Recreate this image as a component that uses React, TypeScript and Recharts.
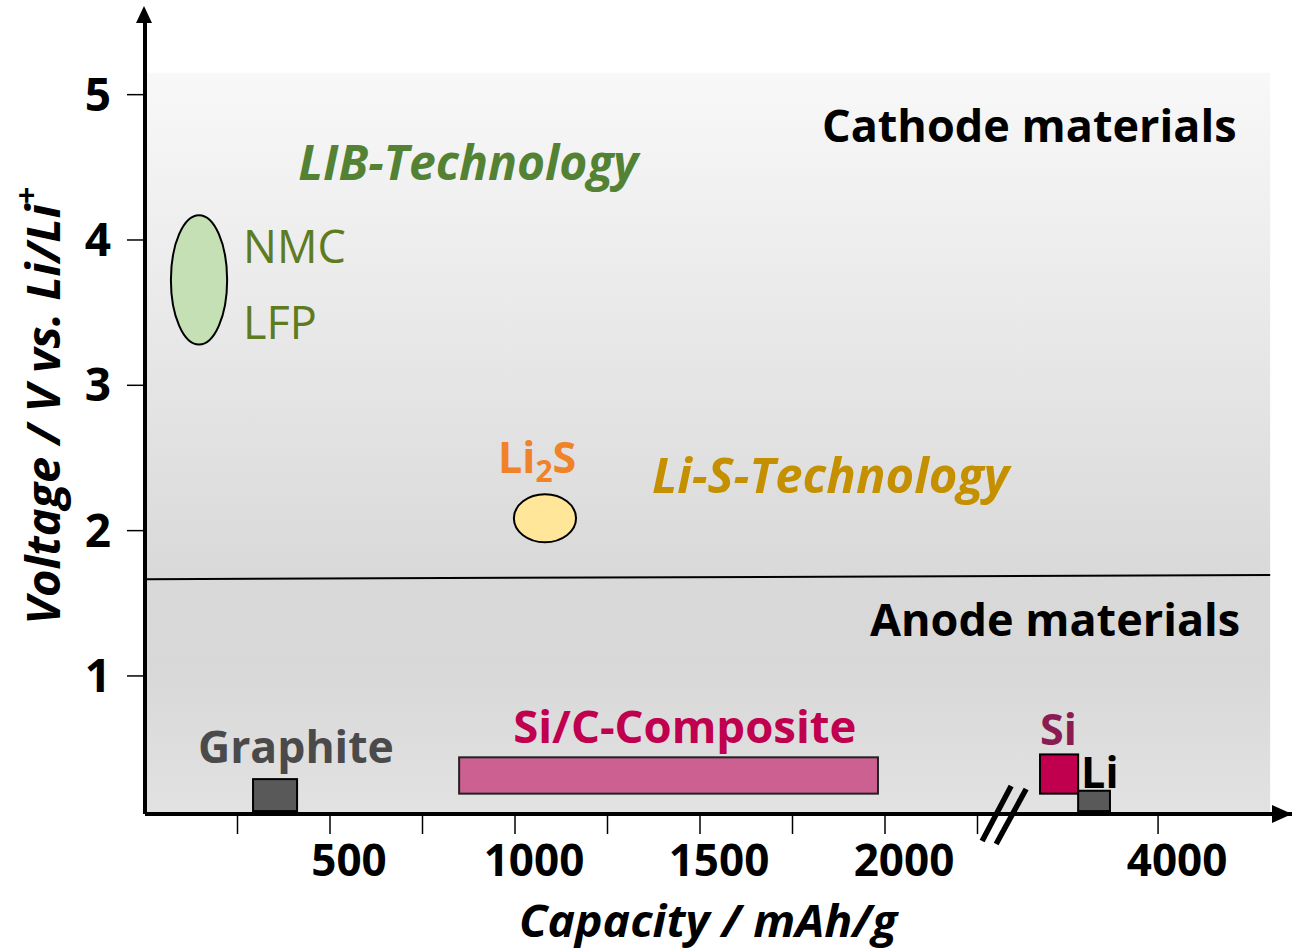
import { ComposedChart, XAxis, YAxis, ReferenceArea, ReferenceLine, ReferenceDot, Label } from "recharts"

// capacity axis is broken after 2250 mAh/g, values right of the break are plotted positions
const xTicks = [250, 500, 750, 1000, 1250, 1500, 1750, 2000, 2250, 2738]
const xTickLabels = ["", "500", "", "1000", "", "1500", "", "2000", "", "4000"]
const yTicks = [1, 2, 3, 4, 5]

// materials: capacity range (mAh/g) and voltage range (V vs. Li/Li+)
const materials = ["NMC / LFP", "Li2S", "Graphite", "Si/C-Composite", "Si", "Li"]
const capFrom = [70, 997, 292, 849, 2419, 2522]
const capTo = [222, 1165, 411, 1981, 2522, 2608]
const voltFrom = [3.28, 1.92, 0.07, 0.19, 0.19, 0.07]
const voltTo = [4.17, 2.25, 0.29, 0.44, 0.46, 0.21]

// text notes and where they sit
const notes = ["Cathode materials", "LIB-Technology", "NMC", "LFP", "Li2S", "Li-S-Technology", "Anode materials", "Graphite", "Si/C-Composite", "Si", "Li"]
const noteCap = [2950, 414, 265, 265, 954, 1370, 2960, 143, 995, 2419, 2530]
const noteVolt = [4.674, 4.413, 3.841, 3.318, 2.395, 2.258, 1.273, 0.399, 0.537, 0.523, 0.227]

// cathode / anode boundary
const dividerCap = [0, 3041]
const dividerVolt = [1.666, 1.694]
const regionCap = [0, 3041]
const regionVolt = [0.05, 5.15]

const FONT = "'Open Sans', 'Noto Sans', sans-serif"

const SHAPES: Record<string, { fill: string; stroke: string; oval?: boolean }> = {
  "NMC / LFP": { fill: "#c5e0b4", stroke: "#000", oval: true },
  Li2S: { fill: "#ffe699", stroke: "#000", oval: true },
  Graphite: { fill: "#595959", stroke: "#000" },
  "Si/C-Composite": { fill: "#cc6090", stroke: "#222" },
  Si: { fill: "#c0004f", stroke: "#000" },
  Li: { fill: "#595959", stroke: "#000" },
}

const NOTE_STYLE = [
  { color: "#000", weight: 700, italic: false, anchor: "end", size: 45 },
  { color: "#548235", weight: 700, italic: true, anchor: "start", size: 48 },
  { color: "#5e7b1f", weight: 400, italic: false, anchor: "start", size: 45 },
  { color: "#5e7b1f", weight: 400, italic: false, anchor: "start", size: 45 },
  { color: "#f08228", weight: 700, italic: false, anchor: "start", size: 43 },
  { color: "#c49000", weight: 700, italic: true, anchor: "start", size: 49 },
  { color: "#000", weight: 700, italic: false, anchor: "end", size: 45 },
  { color: "#4a4a4a", weight: 700, italic: false, anchor: "start", size: 44.5 },
  { color: "#c0004f", weight: 700, italic: false, anchor: "start", size: 45.5 },
  { color: "#8b1c53", weight: 700, italic: false, anchor: "start", size: 43 },
  { color: "#000", weight: 700, italic: false, anchor: "start", size: 43 },
]

const XTick = ({ x, y, index }: any) => (
  <text x={x + 19} y={y + 40} textAnchor="middle" fontSize={44} fontWeight={700} fontFamily={FONT} fill="#000">
    {xTickLabels[index] ?? ""}
  </text>
)

const YTick = ({ x, y, payload }: any) => (
  <text x={x - 14} y={y + 16} textAnchor="end" fontSize={46} fontWeight={700} fontFamily={FONT} fill="#000">
    {payload.value}
  </text>
)

function noteShape(i: number) {
  return (p: any) => {
    const s = NOTE_STYLE[i]
    const common = {
      x: p.cx,
      y: p.cy,
      textAnchor: s.anchor,
      fill: s.color,
      fontWeight: s.weight,
      fontStyle: s.italic ? "italic" : "normal",
      fontFamily: FONT,
      fontSize: s.size,
    }
    if (notes[i] === "Li2S") {
      return (
        <text {...common}>
          Li<tspan dy={9} fontSize={30}>2</tspan><tspan dy={-9}>S</tspan>
        </text>
      )
    }
    return <text {...common}>{notes[i]}</text>
  }
}

function materialShape(name: string) {
  return (p: any) => {
    const s = SHAPES[name]
    if (s.oval) {
      return (
        <ellipse cx={p.x + p.width / 2} cy={p.y + p.height / 2} rx={p.width / 2} ry={p.height / 2}
          fill={s.fill} stroke={s.stroke} strokeWidth={2} />
      )
    }
    return <rect x={p.x} y={p.y} width={p.width} height={p.height} fill={s.fill} stroke={s.stroke} strokeWidth={2} />
  }
}

const yArrow = (p: any) => (
  <polygon points={`${p.cx - 1},${p.cy - 16} ${p.cx - 9},${p.cy + 1} ${p.cx + 7},${p.cy + 1}`} fill="#000" />
)
const xArrow = (p: any) => (
  <polygon points={`${p.cx},${p.cy} ${p.cx - 20},${p.cy - 9} ${p.cx - 20},${p.cy + 9}`} fill="#000" />
)
const breakMark = (p: any) => (
  <g stroke="#000" strokeWidth={5.5}>
    <line x1={p.cx - 22} y1={p.cy + 27} x2={p.cx + 7} y2={p.cy - 28} />
    <line x1={p.cx - 8} y1={p.cy + 30} x2={p.cx + 22} y2={p.cy - 25} />
  </g>
)

const YTitle = ({ viewBox }: any) => {
  const cx = viewBox.x - 43
  const cy = viewBox.y + 384
  return (
    <text x={cx} y={cy} transform={`rotate(-90 ${cx} ${cy})`} textAnchor="middle" dominantBaseline="central"
      fontSize={47} fontWeight={700} fontStyle="italic" fontFamily={FONT} fill="#000">
      Voltage / V vs. Li/Li<tspan dy={-17} fontSize={30}>+</tspan>
    </text>
  )
}

const XTitle = ({ viewBox }: any) => (
  <text x={viewBox.x + 563} y={viewBox.y + 123} textAnchor="middle" fontSize={44} fontWeight={700}
    fontStyle="italic" fontFamily={FONT} fill="#000" textLength={378} lengthAdjust="spacingAndGlyphs">
    Capacity / mAh/g
  </text>
)

export default function App() {
  return (
    <div style={{ position: "absolute", left: 0, top: 0, background: "#fff" }}>
      <ComposedChart width={1304} height={950} margin={{ top: 22, right: 12, bottom: 76, left: 85 }}>
        <defs>
          <linearGradient id="bg" x1="0" y1="0" x2="0" y2="1">
            <stop offset="0" stopColor="#f8f8f8" />
            <stop offset="0.68" stopColor="#d9d9d9" />
            <stop offset="0.8" stopColor="#d8d8d8" />
            <stop offset="1" stopColor="#e2e2e2" />
          </linearGradient>
        </defs>
        <XAxis type="number" dataKey="cap" domain={[0, 3100]} ticks={xTicks} interval={0} allowDataOverflow
          height={60} axisLine={{ stroke: "#000", strokeWidth: 4 }} tickLine={{ stroke: "#000", strokeWidth: 1.5 }}
          tickSize={20} tick={<XTick />}>
          <Label content={<XTitle />} />
        </XAxis>
        <YAxis type="number" domain={[0.05, 5.5]} ticks={yTicks} interval={0} allowDataOverflow width={60}
          axisLine={{ stroke: "#000", strokeWidth: 4 }} tickLine={{ stroke: "#000", strokeWidth: 1.5 }}
          tickSize={18} tick={<YTick />}>
          <Label content={<YTitle />} />
        </YAxis>
        <ReferenceArea x1={regionCap[0]} x2={regionCap[1]} y1={regionVolt[0]} y2={regionVolt[1]}
          fill="url(#bg)" fillOpacity={1} stroke="none" />
        <ReferenceLine segment={[{ x: dividerCap[0], y: dividerVolt[0] }, { x: dividerCap[1], y: dividerVolt[1] }]}
          stroke="#000" strokeWidth={2} />
        {materials.map((m, i) => (
          <ReferenceArea key={m} x1={capFrom[i]} x2={capTo[i]} y1={voltFrom[i]} y2={voltTo[i]}
            shape={materialShape(m)} ifOverflow="visible" />
        ))}
        {notes.map((n, i) => (
          <ReferenceDot key={n + i} x={noteCap[i]} y={noteVolt[i]} r={0} shape={noteShape(i)} ifOverflow="visible" />
        ))}
        <ReferenceDot x={2322} y={0.05} r={0} shape={breakMark} ifOverflow="visible" />
        <ReferenceDot x={0} y={5.5} r={0} shape={yArrow} ifOverflow="visible" />
        <ReferenceDot x={3100} y={0.05} r={0} shape={xArrow} ifOverflow="visible" />
      </ComposedChart>
    </div>
  )
}
